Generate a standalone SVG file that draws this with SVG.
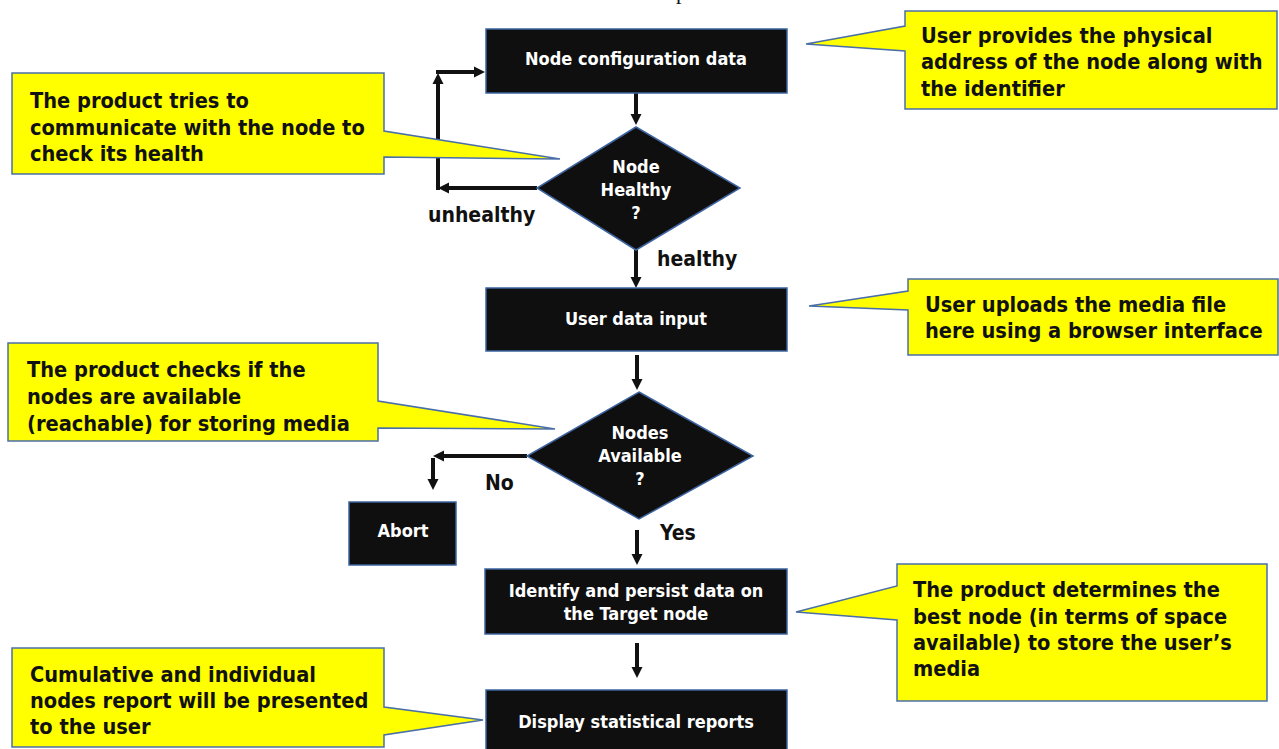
<svg xmlns="http://www.w3.org/2000/svg" width="1279" height="749" viewBox="0 0 1279 749">
  <style>
    .box { fill: #0f0f0f; stroke: #3d64a0; stroke-width: 1.5; }
    .box-text { fill: #ffffff; font-family: "DejaVu Sans Condensed", "DejaVu Sans", sans-serif; font-stretch: condensed; font-weight: bold; font-size: 18px; text-anchor: middle; }
    .callout { fill: #ffff00; stroke: #4a6fa8; stroke-width: 1.5; stroke-linejoin: miter; }
    .callout-text { fill: #111111; font-family: "DejaVu Sans Condensed", "DejaVu Sans", sans-serif; font-stretch: condensed; font-weight: bold; font-size: 21.6px; }
    .label { fill: #111111; font-family: "DejaVu Sans Condensed", "DejaVu Sans", sans-serif; font-stretch: condensed; font-weight: bold; font-size: 21px; }
    .flow { fill: none; stroke: #111111; stroke-width: 4; marker-end: url(#head); }
  </style>
  <defs>
    <marker id="head" viewBox="0 0 10 10" refX="0" refY="5" markerWidth="11" markerHeight="13" markerUnits="userSpaceOnUse" orient="auto">
      <path d="M0,0 L10,5 L0,10 Z" fill="#111111"/>
    </marker>
  </defs>

  <rect width="1279" height="749" fill="#ffffff"/>

  <!-- heading line above, mostly outside the page -->
  <text x="676" y="-1" font-family="Liberation Serif, serif" font-size="22" fill="#111111">p</text>

  <!-- connectors -->
  <g id="connectors">
    <line class="flow" x1="636" y1="93" x2="636" y2="114"/>
    <line class="flow" x1="537" y1="188" x2="449" y2="188"/>
    <line class="flow" x1="438" y1="190" x2="438" y2="84"/>
    <line class="flow" x1="436" y1="72" x2="474" y2="72"/>
    <line class="flow" x1="636" y1="250" x2="636" y2="277"/>
    <line class="flow" x1="637" y1="355" x2="637" y2="379"/>
    <line class="flow" x1="527" y1="456" x2="444" y2="456"/>
    <line class="flow" x1="433" y1="458" x2="433" y2="479"/>
    <line class="flow" x1="637" y1="530" x2="637" y2="554"/>
    <line class="flow" x1="637" y1="643" x2="637" y2="667"/>
    <text class="label" x="428" y="222">unhealthy</text>
    <text class="label" x="657" y="266">healthy</text>
    <text class="label" x="485" y="490">No</text>
    <text class="label" x="660" y="540">Yes</text>
  </g>

  <!-- process steps -->
  <g id="node-config">
    <rect class="box" x="486" y="29" width="301" height="64"/>
    <text class="box-text" x="636" y="65">Node configuration data</text>
  </g>
  <g id="node-healthy">
    <polygon class="box" points="636,127 740,188 636,250 537,188"/>
    <text class="box-text" x="636" y="173">Node</text>
    <text class="box-text" x="636" y="196">Healthy</text>
    <text class="box-text" x="636" y="219">?</text>
  </g>
  <g id="user-input">
    <rect class="box" x="486" y="288" width="301" height="63"/>
    <text class="box-text" x="636" y="325">User data input</text>
  </g>
  <g id="nodes-available">
    <polygon class="box" points="639,392 753,456 639,519 527,456"/>
    <text class="box-text" x="640" y="439">Nodes</text>
    <text class="box-text" x="640" y="462">Available</text>
    <text class="box-text" x="640" y="485">?</text>
  </g>
  <g id="abort">
    <rect class="box" x="349" y="502" width="107" height="63"/>
    <text class="box-text" x="403" y="537">Abort</text>
  </g>
  <g id="persist">
    <rect class="box" x="485" y="569" width="302" height="65"/>
    <text class="box-text" x="636" y="597">Identify and persist data on</text>
    <text class="box-text" x="636" y="620">the Target node</text>
  </g>
  <g id="reports">
    <rect class="box" x="486" y="690" width="301" height="64"/>
    <text class="box-text" x="636" y="728">Display statistical reports</text>
  </g>

  <!-- explanatory callouts -->
  <g id="note-address">
    <path class="callout" d="M905,11 H1277 V109 H905 V51 L806,44 L905,26 Z"/>
    <text class="callout-text" x="921" y="43">User provides the physical</text>
    <text class="callout-text" x="921" y="69">address of the node along with</text>
    <text class="callout-text" x="921" y="96">the identifier</text>
  </g>
  <g id="note-health">
    <path class="callout" d="M12,73 H384 V131 L560,159 L384,157 V174 H12 Z"/>
    <text class="callout-text" x="30" y="108">The product tries to</text>
    <text class="callout-text" x="30" y="135">communicate with the node to</text>
    <text class="callout-text" x="30" y="161">check its health</text>
  </g>
  <g id="note-upload">
    <path class="callout" d="M908,279 H1278 V355 H908 V310 L809,306 L908,291 Z"/>
    <text class="callout-text" x="925" y="312">User uploads the media file</text>
    <text class="callout-text" x="925" y="338">here using a browser interface</text>
  </g>
  <g id="note-available">
    <path class="callout" d="M8,343 H378 V401 L555,429 L378,428 V441 H8 Z"/>
    <text class="callout-text" x="27" y="377">The product checks if the</text>
    <text class="callout-text" x="27" y="404">nodes are available</text>
    <text class="callout-text" x="27" y="431">(reachable) for storing media</text>
  </g>
  <g id="note-target">
    <path class="callout" d="M897,564 H1267 V701 H897 V620 L796,612 L897,586 Z"/>
    <text class="callout-text" x="913" y="597">The product determines the</text>
    <text class="callout-text" x="913" y="624">best node (in terms of space</text>
    <text class="callout-text" x="913" y="650">available) to store the user’s</text>
    <text class="callout-text" x="913" y="676">media</text>
  </g>
  <g id="note-reports">
    <path class="callout" d="M12,648 H384 V707 L483,720 L384,735 V747 H12 Z"/>
    <text class="callout-text" x="30" y="682">Cumulative and individual</text>
    <text class="callout-text" x="30" y="708">nodes report will be presented</text>
    <text class="callout-text" x="30" y="734">to the user</text>
  </g>
</svg>
